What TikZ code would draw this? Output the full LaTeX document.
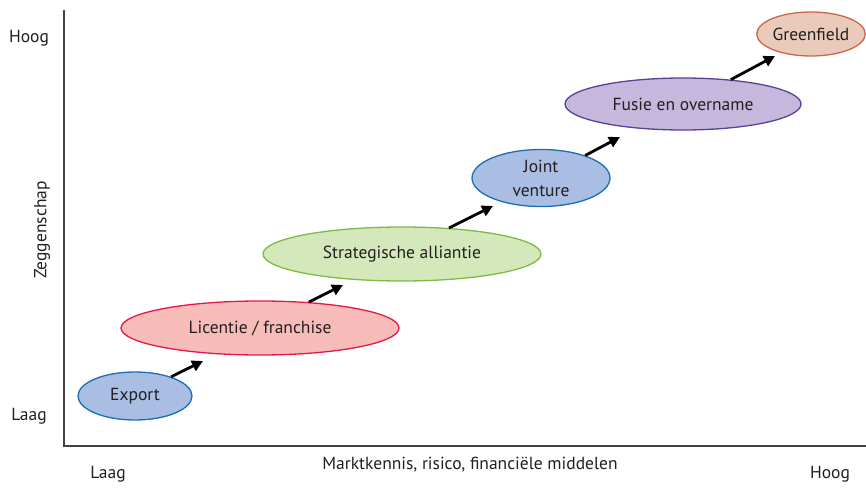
\documentclass[tikz,border=0pt]{standalone}
\usepackage{fontspec}
\setmainfont{PT Sans}
\usepackage{tikz}
\usetikzlibrary{shapes.geometric,arrows.meta}
\definecolor{txt}{HTML}{231F20}
\definecolor{bluefill}{HTML}{A9BEE2}
\definecolor{blueline}{HTML}{1A6EB8}
\definecolor{pinkfill}{HTML}{F8BCB8}
\definecolor{pinkline}{HTML}{E3174B}
\definecolor{greenfill}{HTML}{D5E8BC}
\definecolor{greenline}{HTML}{7DBB42}
\definecolor{purplefill}{HTML}{C5B8DC}
\definecolor{purpleline}{HTML}{5C3F98}
\definecolor{brownfill}{HTML}{EACABA}
\definecolor{brownline}{HTML}{C9674E}
\tikzset{stage/.style={ellipse, inner sep=0pt, line width=1.3pt, text=txt,
    font=\fontsize{17.5}{20}\selectfont, align=center},
  label text/.style={text=txt, font=\fontsize{17.5}{20}\selectfont, inner sep=0pt},
  steparrow/.style={line width=2.8pt, -{Triangle[length=11pt,width=11pt]}}}

\begin{document}
\begin{tikzpicture}[x=1pt,y=1pt]
\useasboundingbox (0,0) rectangle (866,488);

\draw[line width=1.3pt, txt!85] (64,478) -- (64,42) -- (866,42);

\node[label text] (yhigh) at (29,450) {Hoog};
\node[label text] (ylow) at (29,72) {Laag};
\node[label text] (xlow) at (108,14) {Laag};
\node[label text] (xhigh) at (830,14) {Hoog};
\node[label text] (xname) at (470,23) {Marktkennis, risico, financiële middelen};
\node[label text, rotate=90] (yname) at (42,258) {Zeggenschap};

\node[stage, draw=blueline, fill=bluefill, minimum width=114, minimum height=48]
  (export) at (135,92) {Export};
\node[stage, draw=pinkline, fill=pinkfill, minimum width=278, minimum height=54]
  (licentie) at (260,160) {Licentie / franchise};
\node[stage, draw=greenline, fill=greenfill, minimum width=278, minimum height=54]
  (alliantie) at (402,234) {Strategische alliantie};
\node[stage, draw=blueline, fill=bluefill, minimum width=138, minimum height=57,
  font=\fontsize{17.5}{24}\selectfont] (joint) at (541,310) {Joint\\venture};
\node[stage, draw=purpleline, fill=purplefill, minimum width=236, minimum height=52]
  (fusie) at (683,384) {Fusie en overname};
\node[stage, draw=brownline, fill=brownfill, minimum width=100, minimum height=44]
  (greenfield) at (811,454) {Greenfield};

\coordinate (tip1) at (203,127);
\coordinate (tip2) at (343,203);
\coordinate (tip3) at (493,282);
\coordinate (tip4) at (620,351);
\coordinate (tip5) at (775,432);

\draw[steparrow] (export.28) -- (tip1);
\draw[steparrow] (licentie.28) -- (tip2);
\draw[steparrow] (alliantie.29) -- (tip3);
\draw[steparrow] (joint.27) -- (tip4);
\draw[steparrow] (fusie.27) -- (tip5);
\end{tikzpicture}
\end{document}
